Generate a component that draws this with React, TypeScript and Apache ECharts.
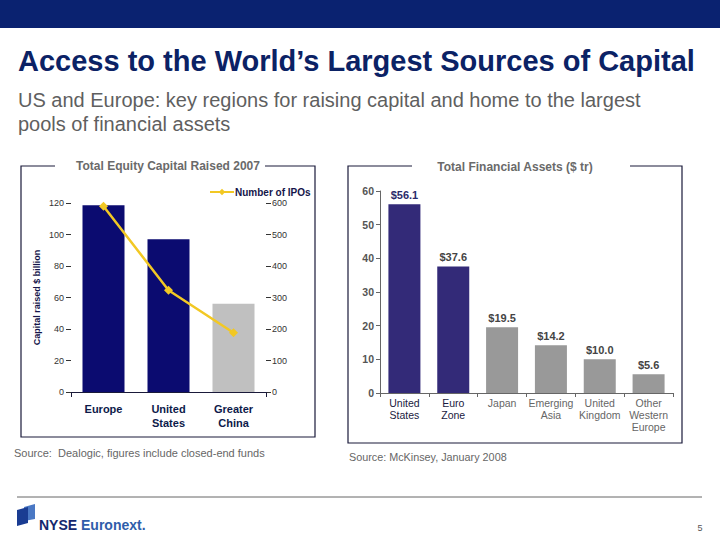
import React, { useEffect, useRef } from "react";
import * as echarts from "echarts";

// ---- Data ----
const equityCategories = ["Europe", "United\nStates", "Greater\nChina"];
const capitalRaised = [118.5, 97, 56];
const ipoCount = [590, 323, 188];
const capitalTicks = { min: 0, max: 120, interval: 20 };
const ipoTicks = { min: 0, max: 600, interval: 100 };

const assetCategories = [
  "United\nStates",
  "Euro\nZone",
  "Japan",
  "Emerging\nAsia",
  "United\nKingdom",
  "Other\nWestern\nEurope",
];
const financialAssets = [56.1, 37.6, 19.5, 14.2, 10.0, 5.6];
const assetTicks = { min: 0, max: 60, interval: 10 };

const FONT = "'Liberation Sans', Arial, sans-serif";
const NAVY_BAR = "#0B0B70";
const CHINA_BAR = "#C0C0C0";
const PURPLE_BAR = "#332A78";
const GRAY_BAR = "#999999";
const YELLOW = "#F2C824";

export default function App() {
  const ref = useRef<HTMLDivElement>(null);

  useEffect(() => {
    if (!ref.current) return;
    const chart = echarts.init(ref.current, undefined, { renderer: "svg" });

    const option: any = {
      animation: false,
      backgroundColor: "#ffffff",
      textStyle: { fontFamily: FONT },
      legend: {
        show: true,
        left: 204,
        top: 182,
        itemWidth: 24,
        itemHeight: 8,
        itemGap: 4,
        data: ["Number of IPOs"],
        textStyle: { fontSize: 10, fontWeight: "bold", color: "#15154a", fontFamily: FONT, padding: [0, 0, 0, -4] },
      },
      grid: [
        { left: 71, top: 203, width: 195, height: 189 },
        { left: 380, top: 191, width: 293, height: 202 },
      ],
      xAxis: [
        {
          type: "category",
          gridIndex: 0,
          data: equityCategories,
          axisLine: { show: true, lineStyle: { color: "#1a1a3a", width: 1 } },
          axisTick: { show: true, interval: (i: number) => i === 1, length: 5, lineStyle: { color: "#1a1a3a" } },
          axisLabel: {
            margin: 10,
            fontSize: 11,
            fontWeight: "bold",
            color: "#0d1a4a",
            lineHeight: 14,
            fontFamily: FONT,
          },
        },
        {
          type: "category",
          gridIndex: 1,
          data: assetCategories,
          axisLine: { show: true, lineStyle: { color: "#666666", width: 1 } },
          axisTick: { show: true, length: 4, lineStyle: { color: "#666666" } },
          axisLabel: {
            margin: 4,
            fontSize: 10.5,
            lineHeight: 12,
            interval: 0,
            fontFamily: FONT,
            color: (_v: any, i: number) => (i < 2 ? "#1a1a40" : "#666666"),
          },
        },
      ],
      yAxis: [
        {
          type: "value",
          gridIndex: 0,
          ...capitalTicks,
          position: "left",
          name: "Capital raised $ billion",
          nameLocation: "middle",
          nameRotate: 90,
          nameGap: 30,
          nameTextStyle: { fontSize: 9, fontWeight: "bold", color: "#15154a", fontFamily: FONT },
          splitLine: { show: false },
          axisLine: { show: false },
          axisTick: { show: true, length: 5, lineStyle: { color: "#333333" } },
          axisLabel: { fontSize: 9, color: "#333333", margin: 7, fontFamily: FONT },
        },
        {
          type: "value",
          gridIndex: 0,
          ...ipoTicks,
          position: "right",
          splitLine: { show: false },
          axisLine: { show: false },
          axisTick: { show: true, length: 5, lineStyle: { color: "#333333" } },
          axisLabel: { fontSize: 9, color: "#333333", margin: 6, fontFamily: FONT },
        },
        {
          type: "value",
          gridIndex: 1,
          ...assetTicks,
          splitLine: { show: false },
          axisLine: { show: true, lineStyle: { color: "#666666" } },
          axisTick: { show: true, length: 4, lineStyle: { color: "#666666" } },
          axisLabel: { fontSize: 10.5, fontWeight: "bold", color: "#555555", margin: 6, fontFamily: FONT },
        },
      ],
      series: [
        {
          name: "Capital raised",
          type: "bar",
          xAxisIndex: 0,
          yAxisIndex: 0,
          barWidth: 42,
          data: capitalRaised.map((v, i) => ({
            value: v,
            itemStyle: { color: i < 2 ? NAVY_BAR : CHINA_BAR },
          })),
        },
        {
          name: "Number of IPOs",
          type: "line",
          xAxisIndex: 0,
          yAxisIndex: 1,
          data: ipoCount,
          symbol: "diamond",
          symbolSize: 9,
          itemStyle: { color: YELLOW },
          lineStyle: { color: YELLOW, width: 2.5 },
          z: 5,
        },
        {
          name: "Financial assets",
          type: "bar",
          xAxisIndex: 1,
          yAxisIndex: 2,
          barWidth: 32,
          data: financialAssets.map((v, i) => ({
            value: v,
            itemStyle: { color: i < 2 ? PURPLE_BAR : GRAY_BAR },
            label: { color: i === 0 ? "#2a2a6a" : "#444444" },
          })),
          label: {
            show: true,
            position: "top",
            distance: 4,
            fontSize: 11,
            fontWeight: "bold",
            fontFamily: FONT,
            formatter: (p: any) => "$" + Number(p.value).toFixed(1),
          },
        },
      ],
      graphic: [
        // top bar
        { type: "rect", shape: { x: 0, y: 0, width: 720, height: 28 }, style: { fill: "#0A2270" }, silent: true },
        {
          type: "text",
          left: 18,
          top: 46,
          style: {
            text: "Access to the World\u2019s Largest Sources of Capital",
            font: `bold 29px ${FONT}`,
            fill: "#0B2265",
          },
        },
        {
          type: "text",
          left: 18,
          top: 88,
          style: {
            text: "US and Europe: key regions for raising capital and home to the largest\npools of financial assets",
            font: `20px ${FONT}`,
            lineHeight: 24,
            fill: "#5f5f5f",
          },
        },
        // left box
        {
          type: "polyline",
          shape: { points: [[55, 166], [21, 166], [21, 437], [315, 437], [315, 166], [265, 166]] },
          style: { stroke: "#1a1a3a", lineWidth: 1.2, fill: null },
          silent: true,
        },
        {
          type: "text",
          x: 168,
          y: 166,
          style: {
            text: "Total Equity Capital Raised 2007",
            font: `bold 12px ${FONT}`,
            fill: "#6a6a6a",
            align: "center",
            verticalAlign: "middle",
          },
        },
        // right box
        {
          type: "polyline",
          shape: { points: [[412, 166], [348, 166], [348, 443], [682, 443], [682, 166], [630, 166]] },
          style: { stroke: "#1a1a3a", lineWidth: 1.2, fill: null },
          silent: true,
        },
        {
          type: "text",
          x: 515,
          y: 167,
          style: {
            text: "Total Financial Assets ($ tr)",
            font: `bold 12px ${FONT}`,
            fill: "#6a6a6a",
            align: "center",
            verticalAlign: "middle",
          },
        },
        // sources
        {
          type: "text",
          x: 14,
          y: 453,
          style: {
            text: "Source:  Dealogic, figures include closed-end funds",
            font: `11px ${FONT}`,
            fill: "#666666",
            verticalAlign: "middle",
          },
        },
        {
          type: "text",
          x: 349,
          y: 457,
          style: {
            text: "Source: McKinsey, January 2008",
            font: `10.8px ${FONT}`,
            fill: "#666666",
            verticalAlign: "middle",
          },
        },
        // footer
        {
          type: "line",
          shape: { x1: 17, y1: 497, x2: 702, y2: 497 },
          style: { stroke: "#666666", lineWidth: 1 },
          silent: true,
        },
        {
          type: "polygon",
          shape: { points: [[24, 507], [35, 504], [35, 519], [24, 521]] },
          style: { fill: "#4A78C4" },
          silent: true,
        },
        {
          type: "polygon",
          shape: { points: [[17, 510], [28, 507], [28, 523], [17, 526]] },
          style: { fill: "#1A3C92" },
          silent: true,
        },
        {
          type: "text",
          x: 39,
          y: 525,
          style: {
            text: "{a|NYSE} {b|Euronext.}",
            verticalAlign: "middle",
            fill: "#14286E",
            rich: {
              a: { font: `bold 14px ${FONT}`, fill: "#14286E" },
              b: { font: `bold 14px ${FONT}`, fill: "#2F5DAA" },
            },
            font: `bold 14px ${FONT}`,
          },
        },
        {
          type: "text",
          x: 700,
          y: 528,
          style: { text: "5", font: `9px ${FONT}`, fill: "#555555", align: "center", verticalAlign: "middle" },
        },
      ],
    };

    chart.setOption(option);
    return () => chart.dispose();
  }, []);

  return (
    <div
      ref={ref}
      style={{ position: "absolute", left: 0, top: 0, width: 720, height: 540, background: "#fff" }}
    />
  );
}
